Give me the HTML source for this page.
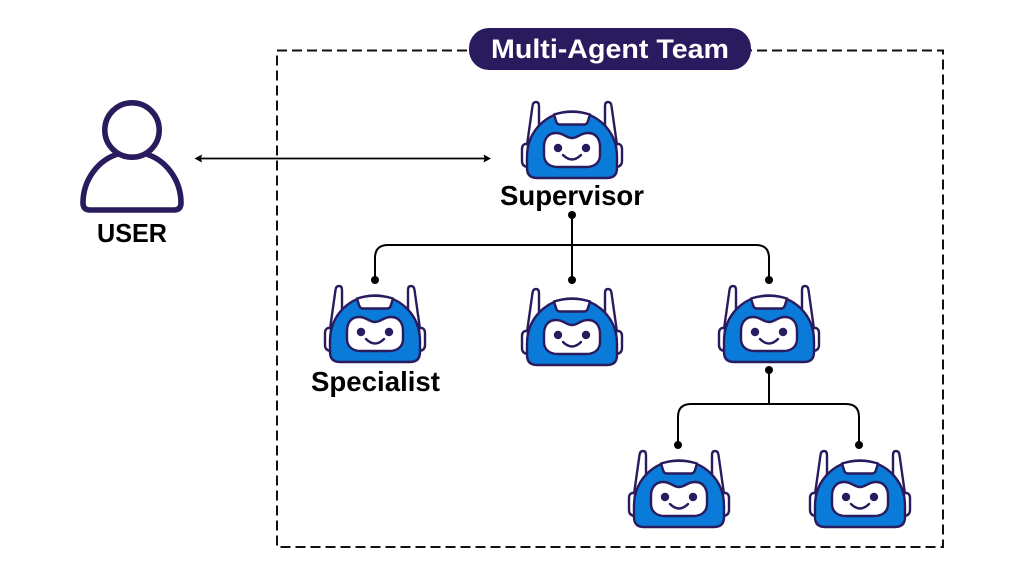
<!DOCTYPE html>
<html><head><meta charset="utf-8">
<style>html,body{margin:0;padding:0;background:#fff;width:1024px;height:576px;overflow:hidden}svg{display:block}text{font-family:"Liberation Sans",sans-serif;font-weight:700}</style>
</head><body>
<svg width="1024" height="576" viewBox="0 0 1024 576" xmlns="http://www.w3.org/2000/svg">
<defs>
<g id="robot" stroke="#2a1a5e" stroke-width="2.4" stroke-linejoin="round">
<path d="M-45,44 L-39.5,5 Q-39,1 -36,1 Q-33,1 -33,5 L-33,26 Z" fill="#fff"/>
<path d="M45,44 L39.5,5 Q39,1 36,1 Q33,1 33,5 L33,26 Z" fill="#fff"/>
<path d="M-44,43 L-47,43 Q-50,44 -50,48 L-50,60 Q-50,65 -45,66 L-44,66 Z" fill="#fff"/>
<path d="M44,43 L47,43 Q50,44 50,48 L50,60 Q50,65 45,66 L44,66 Z" fill="#fff"/>
<path d="M-45,56 C-45,30 -25,10.5 0,10.5 C25,10.5 45,30 45,56 L45,67 Q45,77 35,77 L-35,77 Q-45,77 -45,67 Z" fill="#0a7bd8"/>
<path d="M-18,13.5 Q0,8 18,13.5 L16,20 Q15,23.5 12,23.5 L-12,23.5 Q-15,23.5 -16,20 Z" fill="#fff"/>
<path d="M-16,32 C-8,32 -6,37 0,37 C6,37 8,32 16,32 C24,32 28,38 28,46 L28,54 C28,62 22,66 14,66 L-14,66 C-22,66 -28,62 -28,54 L-28,46 C-28,38 -24,32 -16,32 Z" fill="#fff"/>
<circle cx="-14" cy="47" r="4.2" fill="#2a1a5e" stroke="none"/>
<circle cx="14" cy="47" r="4.2" fill="#2a1a5e" stroke="none"/>
<path d="M-9,54 Q0,63 9,54" fill="none" stroke-linecap="round"/>
</g>
</defs>
<rect x="277" y="50.5" width="666" height="496.5" fill="none" stroke="#111" stroke-width="2" stroke-dasharray="10 5"/>
<rect x="469" y="28" width="282" height="42" rx="20" fill="#2a1a5e"/>
<text x="610" y="58" font-size="27" fill="#fff" text-anchor="middle" textLength="238" lengthAdjust="spacingAndGlyphs">Multi-Agent Team</text>

<circle cx="132" cy="130" r="27.2" fill="none" stroke="#2a1a5e" stroke-width="5.6"/>
<path d="M118,154 C98,160 83,180 83,203 Q83,210 90,210 L174,210 Q181,210 181,203 C181,180 166,160 146,154" fill="none" stroke="#2a1a5e" stroke-width="5.6" stroke-linejoin="round"/>
<text x="132" y="242" font-size="26" fill="#000" text-anchor="middle" textLength="70" lengthAdjust="spacingAndGlyphs">USER</text>

<path d="M198,158.5 H488" fill="none" stroke="#000" stroke-width="1.8"/>
<path d="M194.5,158.5 L202,154.5 L201,158.5 L202,162.5 Z M491,158.5 L483.5,154.5 L484.5,158.5 L483.5,162.5 Z" fill="#000"/>

<g fill="none" stroke="#000" stroke-width="2">
<path d="M572,215 V280"/>
<path d="M375,280 V258 Q375,245 388,245 H756 Q769,245 769,258 V280"/>
<path d="M769,370 V404"/>
<path d="M678,445 V417 Q678,404 691,404 H846 Q859,404 859,417 V445"/>
</g>
<g fill="#000">
<circle cx="572" cy="215" r="4"/><circle cx="572" cy="280" r="4"/>
<circle cx="375" cy="280" r="4"/><circle cx="769" cy="280" r="4"/>
<circle cx="769" cy="370" r="4"/><circle cx="678" cy="445" r="4"/><circle cx="859" cy="445" r="4"/>
</g>

<use href="#robot" x="572" y="101"/>
<use href="#robot" x="375" y="285"/>
<use href="#robot" x="572" y="288"/>
<use href="#robot" x="769" y="285"/>
<use href="#robot" x="679" y="450"/>
<use href="#robot" x="860" y="450"/>

<text x="572" y="205" font-size="27.5" fill="#000" text-anchor="middle" textLength="144" lengthAdjust="spacingAndGlyphs">Supervisor</text>
<text x="375.5" y="391" font-size="27.5" fill="#000" text-anchor="middle" textLength="129" lengthAdjust="spacingAndGlyphs">Specialist</text>
</svg>
</body></html>
